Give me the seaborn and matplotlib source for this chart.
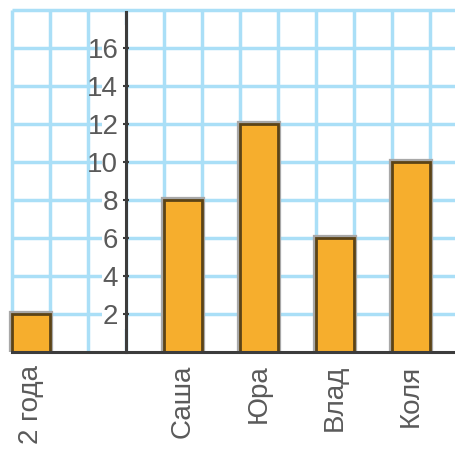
import numpy as np
import matplotlib
matplotlib.use("Agg")
import matplotlib.pyplot as plt
import matplotlib.patheffects as pe
from matplotlib.patches import Rectangle
import seaborn as sns

names = ["2 года", "Саша", "Юра", "Влад", "Коля"]
values = [2, 8, 12, 6, 10]
y_ticks = [2, 4, 6, 8, 10, 12, 14, 16]

# empty grid columns between the bars (unique blank names)
order = ["2 года", " ", "  ", "   ", "Саша", "    ", "Юра", "     ", "Влад", "      ", "Коля"]

grid_col = "#aadff7"
text_col = "#5a5a5a"
plt.rcParams["font.family"] = ["Liberation Sans", "DejaVu Sans"]

fig = plt.figure(figsize=(4.56, 4.5), dpi=100)
ax = fig.add_axes([0, 98 / 450, 1, 18.1 * 19 / 450])

xmin, xmax = -0.816, 11.184

sns.barplot(x=names, y=values, order=order, color="#f6ae2d", width=1.0,
            edgecolor="#5b4317", linewidth=2, saturation=1, ax=ax, zorder=2)
for bar in ax.patches:
    bar.set_path_effects([pe.withStroke(linewidth=4.5, foreground="#a8a8a8")])

# squared paper
ax.hlines(np.arange(2, 19, 2), -0.5, xmax, color=grid_col, lw=2.5, zorder=1)
ax.vlines(np.arange(-0.5, 11.6, 1), 0, 18, color=grid_col, lw=2.5, zorder=1)
ax.add_patch(Rectangle((1.87, 1.2), 0.6, 16.0, facecolor="white",
                       edgecolor="none", zorder=1.5))

ax.set_xlim(xmin, xmax)
ax.set_ylim(0, 18.1)
ax.set_xlabel("")
ax.set_ylabel("")

for s in ["top", "right"]:
    ax.spines[s].set_visible(False)
ax.spines["left"].set_position(("data", 2.5))
ax.spines["left"].set_bounds(0, 17.9)
ax.spines["bottom"].set_bounds(-0.5, xmax)
for s in ["left", "bottom"]:
    ax.spines[s].set_color("#3c3c3c")
    ax.spines[s].set_linewidth(2.2)
    ax.spines[s].set_zorder(3)

ax.set_yticks(y_ticks)
ax.tick_params(axis="y", direction="inout", length=5, width=1.5, color="#3c3c3c",
               labelsize=20, labelcolor=text_col, pad=3)
ax.tick_params(axis="x", length=0, labelsize=20, labelcolor=text_col, pad=9)
for lab in ax.get_xticklabels():
    lab.set_rotation(90)

fig.savefig("out.png", dpi=100)
